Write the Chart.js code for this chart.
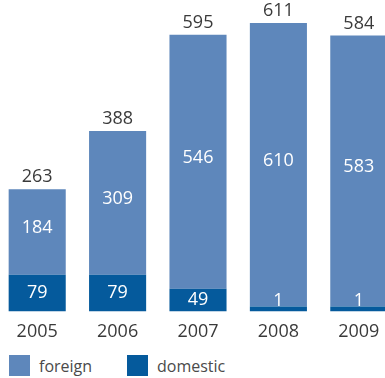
<!DOCTYPE html>
<html>
<head>
<meta charset="utf-8">
<script src="https://cdn.jsdelivr.net/npm/chart.js@4/dist/chart.umd.min.js"></script>
<style>
  html, body { margin: 0; padding: 0; background: #fff; overflow: hidden; }
  #wrap { position: absolute; left: -3px; top: 0; width: 402px; height: 345px; }
  #legend { position: absolute; left: 9px; top: 355px; display: flex; font: 16px 'Open Sans', 'Noto Sans', sans-serif; color: #4a4a4a; }
  #legend .item { display: flex; align-items: center; height: 21px; width: 118px; }
  #legend .box { width: 21px; height: 21px; margin-right: 9px; }
</style>
</head>
<body>
<div id="wrap"><canvas id="myChart"></canvas></div>
<div id="legend"></div>
<script>
const years = ['2005', '2006', '2007', '2008', '2009'];
const foreign = [184, 309, 546, 610, 583];
const domestic = [79, 79, 49, 1, 1];

const foreignColor = '#5e87bb';
const domesticColor = '#055a9c';
const textFont = "'Open Sans', 'Noto Sans', sans-serif";

// value labels inside the bars plus the total above each stack
const barLabels = {
  id: 'barLabels',
  afterDatasetsDraw(chart) {
    const ctx = chart.ctx;
    ctx.save();
    ctx.textAlign = 'center';
    ctx.textBaseline = 'middle';
    ctx.font = '18px ' + textFont;
    chart.data.datasets.forEach((ds, i) => {
      const meta = chart.getDatasetMeta(i);
      meta.data.forEach((bar, j) => {
        let y = (bar.y + bar.base) / 2;
        if (ds.label === 'domestic') y = Math.min(y, bar.base - 11);
        else y -= 4;
        ctx.fillStyle = '#ffffff';
        ctx.fillText(ds.data[j], bar.x, y);
      });
    });
    const top = chart.getDatasetMeta(1);
    ctx.fillStyle = '#3a3a3a';
    top.data.forEach((bar, j) => {
      ctx.fillText(foreign[j] + domestic[j], bar.x, bar.y - 12);
    });
    ctx.restore();
  }
};

const ctx = document.getElementById('myChart').getContext('2d');
const myChart = new Chart(ctx, {
  type: 'bar',
  data: {
    labels: years,
    datasets: [{
      label: 'domestic',
      data: domestic,
      backgroundColor: domesticColor,
      minBarLength: 5
    }, {
      label: 'foreign',
      data: foreign,
      backgroundColor: foreignColor
    }]
  },
  options: {
    responsive: true,
    maintainAspectRatio: false,
    animation: false,
    datasets: {
      bar: { barPercentage: 0.71, categoryPercentage: 1 }
    },
    layout: { padding: 0 },
    scales: {
      x: {
        stacked: true,
        grid: { display: false },
        border: { display: false },
        ticks: { color: '#3a3a3a', font: { family: textFont, size: 18 }, padding: 2 }
      },
      y: {
        stacked: true,
        display: false,
        min: 0,
        max: 670
      }
    },
    plugins: {
      tooltip: { enabled: false },
      legend: { display: false }
    }
  },
  plugins: [barLabels]
});

// legend built from the datasets, foreign first
const legendEl = document.getElementById('legend');
myChart.data.datasets.slice().reverse().forEach(ds => {
  const item = document.createElement('div');
  item.className = 'item';
  const box = document.createElement('span');
  box.className = 'box';
  box.style.background = ds.backgroundColor;
  item.appendChild(box);
  item.appendChild(document.createTextNode(ds.label));
  legendEl.appendChild(item);
});
</script>
</body>
</html>
